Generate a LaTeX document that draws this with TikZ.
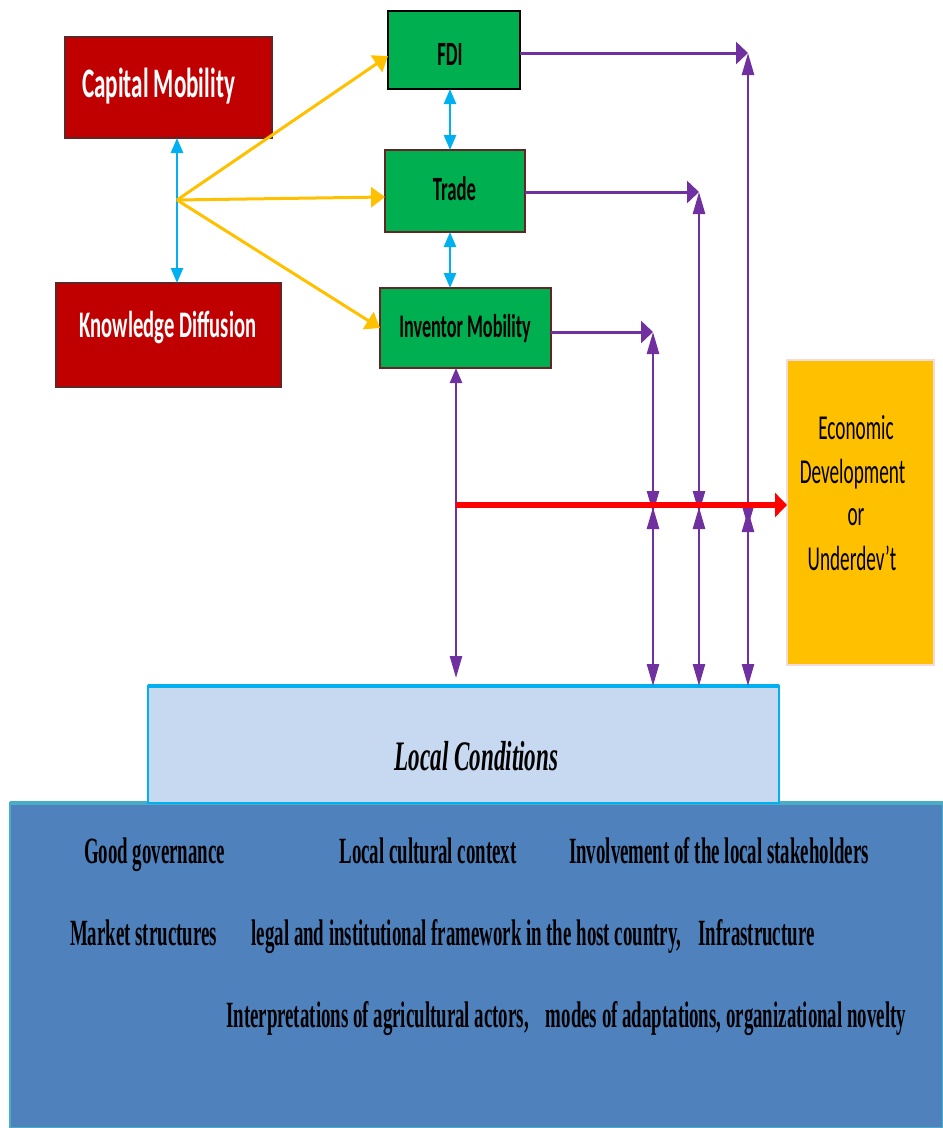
\documentclass[tikz,border=0pt]{standalone}
\usepackage{fontspec}
\usetikzlibrary{arrows.meta}
\newfontfamily\calf[FakeStretch=0.55]{Carlito}
\newfontfamily\timf[FakeStretch=0.55]{Liberation Serif}
\newfontfamily\timb[FakeStretch=0.51]{Liberation Serif Bold}
\definecolor{dred}{HTML}{C00000}
\definecolor{brbord}{HTML}{632523}
\definecolor{grn}{HTML}{00B050}
\definecolor{ylw}{HTML}{FFC000}
\definecolor{cyn}{HTML}{00B0F0}
\definecolor{purp}{HTML}{7030A0}
\definecolor{pinkb}{HTML}{F2DCDB}
\definecolor{lcfill}{HTML}{C6D9F1}
\definecolor{basefill}{HTML}{4F81BD}
\definecolor{baseb}{HTML}{4BACC6}
\begin{document}
\begin{tikzpicture}[x=1pt,y=-1pt,
  boxn/.style={rectangle, inner sep=0pt, outer sep=0pt},
  redbox/.style={boxn, fill=dred, draw=brbord, line width=2pt},
  grnbox/.style={boxn, fill=grn, draw=brbord, line width=2pt},
  redtxt/.style={anchor=base, inner sep=0pt, text=white, font=\calf\bfseries},
  grntxt/.style={anchor=base, inner sep=0pt, text=black, font=\calf\bfseries},
  ectxt/.style={anchor=base, inner sep=0pt, text=black, font=\calf\fontsize{35}{40}\selectfont},
  btxt/.style={anchor=base, inner sep=0pt, text=black, font=\timb\fontsize{37}{42}\selectfont},
  cyarr/.style={draw=cyn, line width=2.5pt, arrows={Triangle[length=15pt,width=12pt]-Triangle[length=15pt,width=12pt]}},
  yarr/.style={draw=ylw, line width=3pt, -{Triangle[length=14pt,width=20pt]}},
  phar/.style={draw=purp, line width=3pt, -{Triangle[length=12pt,width=22pt]}},
  pvar/.style={draw=purp, line width=2.5pt, arrows={Triangle[length=22pt,width=12pt]-Triangle[length=22pt,width=12pt]}},
]
\useasboundingbox (0,0) rectangle (943,1128);

% base area and local conditions
\node[boxn, fill=basefill, draw=baseb, line width=1.5pt, minimum width=933pt, minimum height=325pt] (base) at (476.5,965.5) {};
\draw[baseb, line width=4pt] (base.north west) -- (base.north east);
\node[boxn, fill=lcfill, draw=cyn, line width=2pt, minimum width=631pt, minimum height=117pt] (lc) at (463.5,744.5) {};
\draw[cyn, line width=4pt] (lc.north west) -- (lc.north east);
\node[anchor=base, inner sep=0pt, font=\timf\bfseries\itshape\fontsize{42}{48}\selectfont] (lcT) at (476.5,770) {Local Conditions};

% boxes
\node[redbox, minimum width=207pt, minimum height=101pt] (cap) at (168.5,87.5) {};
\node[redbox, minimum width=225pt, minimum height=104pt] (know) at (168.5,335) {};
\node[grnbox, draw=black, line width=2.5pt, minimum width=132pt, minimum height=78pt] (fdi) at (454,50) {};
\node[grnbox, minimum width=140pt, minimum height=82pt] (trade) at (455,191) {};
\node[grnbox, minimum width=171pt, minimum height=80pt] (inv) at (465.5,328) {};
\node[boxn, fill=ylw, draw=pinkb, line width=2.5pt, minimum width=147pt, minimum height=305pt] (econ) at (860.5,512.5) {};

\node[redtxt, font=\calf\bfseries\fontsize{42}{48}\selectfont] (capT) at (158.5,97) {Capital Mobility};
\node[redtxt, font=\calf\bfseries\fontsize{37.5}{44}\selectfont] (knowT) at (168,337) {Knowledge Diffusion};
\node[grntxt, font=\calf\bfseries\fontsize{34}{40}\selectfont] (fdiT) at (450,65) {FDI};
\node[grntxt, font=\calf\bfseries\fontsize{34}{40}\selectfont] (tradeT) at (454.5,200) {Trade};
\node[grntxt, font=\calf\bfseries\fontsize{33}{38}\selectfont] (invT) at (465,337) {Inventor Mobility};

\node[ectxt] (ec1) at (856,439) {Economic};
\node[ectxt] (ec2) at (852.5,483) {Development};
\node[ectxt] (ec3) at (856,525) {or};
\node[ectxt] (ec4) at (852,570) {Underdev’t};

% bottom texts
\node[btxt] (b1) at (154.5,863) {Good governance};
\node[btxt] (b2) at (428,863) {Local cultural context};
\node[btxt] (b3) at (719,863) {Involvement of the local stakeholders};
\node[btxt] (b4) at (143.5,945) {Market structures};
\node[btxt] (b5) at (466.5,945) {legal and institutional framework in the host country,};
\node[btxt] (b6) at (756.5,945) {Infrastructure};
\node[btxt] (b7) at (377.5,1027) {Interpretations of agricultural actors,};
\node[btxt] (b8) at (726,1027) {modes of adaptations, organizational novelty};

% coordinates
\coordinate (hub) at (177,200);
\coordinate (r) at (456,505);
\coordinate (v3t) at (748,53);
\coordinate (v2t) at (699,192);
\coordinate (v1t) at (653,332);
\coordinate (v3u) at (748,527);
\coordinate (v3l) at (748,510);
\coordinate (v2u) at (699,513);
\coordinate (v2l) at (699,507);
\coordinate (v1u) at (653,513);
\coordinate (v1l) at (653,507);
\coordinate (ivb) at (456,678);

% cyan arrows
\draw[cyarr] (hub |- cap.south) -- (hub |- know.north);
\draw[cyarr] (fdi.south -| 450,0) -- (trade.north -| 450,0);
\draw[cyarr] (trade.south -| 450,0) -- (inv.north -| 450,0);

% yellow arrows
\draw[yarr] (hub) -- ([yshift=-6pt]fdi.west);
\draw[yarr] (hub) -- ([yshift=-6pt]trade.west);
\draw[yarr] (hub) -- (inv.west);

% purple horizontals
\draw[phar] ([yshift=-3pt]fdi.east) -- (v3t);
\draw[phar] ([yshift=-1pt]trade.east) -- (v2t);
\draw[phar] ([yshift=-4pt]inv.east) -- (v1t);

% purple verticals
\draw[pvar] (v3t) -- (v3u);
\draw[pvar] (v3l) -- (v3l |- lc.north);
\draw[pvar] (v2t) -- (v2u);
\draw[pvar] (v2l) -- (v2l |- lc.north);
\draw[pvar] (v1t) -- (v1u);
\draw[pvar] (v1l) -- (v1l |- lc.north);
\draw[draw=purp, line width=2.5pt, arrows={Triangle[length=15pt,width=12pt]-Triangle[length=22pt,width=12pt]}] (inv.south -| r) -- (ivb);

% red arrow
\draw[red, line width=5.5pt, -{Triangle[length=12pt,width=24pt]}] (r) -- (econ.west |- r);
\end{tikzpicture}
\end{document}
